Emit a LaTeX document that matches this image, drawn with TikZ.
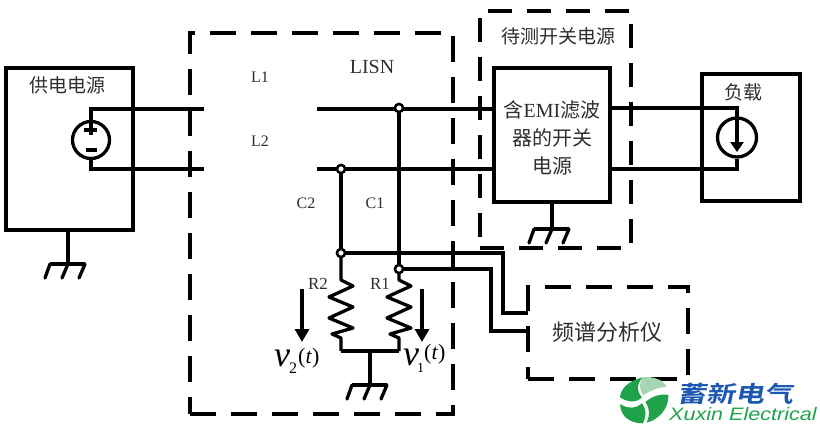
\documentclass[tikz,border=0pt]{standalone}
\usepackage{fontspec}
\setmainfont{Liberation Serif}
\newfontfamily\cjk{Noto Sans CJK SC}
\newfontfamily\cjkb{Noto Sans CJK SC Bold}[BoldFont={Noto Sans CJK SC Bold}]
\newfontfamily\logolat{Liberation Sans}
\usetikzlibrary{arrows.meta}
\definecolor{txt}{HTML}{2E2E2E}
\definecolor{lgreen}{HTML}{1FA24A}
\definecolor{lpale}{HTML}{A5D5B5}
\definecolor{lblue}{HTML}{1C57B0}
\newcommand{\fs}[1]{\fontsize{#1}{#1}\selectfont}
\tikzset{
  wire/.style={line width=3.3pt,line join=miter},
  solidbox/.style={draw,line width=3.1pt,minimum width=0pt,inner sep=0pt,outer sep=0pt},
  dashbox/.style={draw,line width=3.3pt,inner sep=0pt,outer sep=0pt,dash pattern=on 26pt off 15pt},
  cjklabel/.style={inner sep=0pt,text=txt,font=\cjk\fs{#1},align=center},
  serlabel/.style={inner sep=0pt,text=txt,font=\fs{#1}},
  junction/.style={circle,draw,fill=white,line width=2.4pt,minimum size=8pt,inner sep=0pt},
  varrow/.style={line width=3.2pt,-{Triangle[length=13pt,width=14pt]}},
  gndsym/.pic={
    \draw[wire] (-18,0) -- (17,0);
    \draw[wire,line cap=round] (-18,0) -- (-23,14) (0,0) -- (-6,14) (17,0) -- (11,14);
  }
}
\begin{document}
\begin{tikzpicture}[x=1pt,y=-1pt]
\useasboundingbox (0,0) rectangle (820,426);
% boxes
\node[solidbox,minimum width=127pt,minimum height=162pt] (sup) at (69.5,149) {};
\node[solidbox,minimum width=98pt,minimum height=127pt] (load) at (751,137.5) {};
\node[solidbox,fill=white,minimum width=116pt,minimum height=134pt] (dut) at (552,135) {};
% coordinates
\coordinate (srcT) at (91,109); \coordinate (srcB) at (91,169);
\coordinate (l1end) at (204,109); \coordinate (l2end) at (204,169);
\coordinate (l1start) at (317,109); \coordinate (l2start) at (317,169);
\coordinate (ldT) at (737,108); \coordinate (ldB) at (737,169);
\node[circle,draw,line width=3.3pt,minimum size=37pt,inner sep=0pt] (src) at (91,140) {};
\node[circle,draw,line width=3.3pt,minimum size=39pt,inner sep=0pt] (cur) at (737,137.5) {};
% source wires
\draw[wire] (src.north) -- (srcT) -- (l1end);
\draw[wire] (src.south) -- (srcB) -- (l2end);
\draw[wire] (91,120) -- (91,135);
\draw[wire] (84,130) -- (97,130);
\draw[wire] (86,150) -- (97,150);
% lines into DUT and load
\draw[wire] (l1start) -- (dut.west |- l1start);
\draw[wire] (l2start) -- (dut.west |- l2start);
\draw[wire] (dut.east |- ldT) -- (ldT) -- (cur.north);
\draw[wire] (dut.east |- ldB) -- (ldB) -- (cur.south);
\draw[line width=3.2pt,-{Triangle[length=10pt,width=13pt]}] (cur.north) -- (737,152);
% grounds
\coordinate (g1) at (68,264); \coordinate (g2) at (552,229); \coordinate (g3) at (370,385);
\draw[wire] (sup.south -| g1) -- (g1); \pic at (g1) {gndsym};
\draw[wire] (dut.south -| g2) -- (g2); \pic at (g2) {gndsym};
% LISN inner
\node[junction] (j1) at (399,108) {};
\node[junction] (j2) at (341,169) {};
\node[junction] (j3) at (341,253) {};
\node[junction] (j4) at (399,269) {};
\coordinate (r1t) at (399,280); \coordinate (r2t) at (341,280);
\coordinate (r1b) at (399,351); \coordinate (r2b) at (341,351);
\coordinate (gt) at (370,351);
\draw[wire] (j1) -- (j4);
\draw[wire] (j2) -- (j3);
\draw[wire,line join=round] (j3) -- (r2t) -- (353,286) -- (329,297) -- (353,307) -- (329,318) -- (353,328) -- (332,334) -- (341,338) -- (r2b);
\draw[wire,line join=round] (j4) -- (r1t) -- (411,286) -- (387,297) -- (411,307) -- (387,318) -- (411,328) -- (390,334) -- (399,338) -- (r1b);
\draw[wire] (r2b) -- (r1b);
\draw[wire] (gt) -- (g3); \pic at (g3) {gndsym};
% dashed boxes
\node[dashbox,minimum width=263pt,minimum height=381pt] (lisn) at (321.5,223.5) {};
\node[dashbox,dash pattern=on 24pt off 15pt,minimum width=151pt,minimum height=237pt] (dutd) at (555.5,129.5) {};
\node[dashbox,minimum width=160pt,minimum height=92pt] (spec) at (608,333) {};
% to analyser
\coordinate (c1) at (503,253); \coordinate (c2) at (503,313); \coordinate (c3) at (528,313);
\coordinate (d1) at (491,269); \coordinate (d2) at (491,331); \coordinate (d3) at (528,331);
\draw[wire] (j3) -- (c1) -- (c2) -- (c3);
\draw[wire] (j4) -- (d1) -- (d2) -- (d3);
\node[junction] at (341,253) {};
\node[junction] at (399,269) {};
\node[junction] at (399,108) {};
\node[junction] at (341,169) {};
% voltage arrows
\coordinate (v2a) at (302,289); \coordinate (v2b) at (302,342);
\coordinate (v1a) at (422,289); \coordinate (v1b) at (422,342);
\draw[varrow] (v2a) -- (v2b);
\draw[varrow] (v1a) -- (v1b);
% labels
\node[cjklabel=19] (t1) at (68,85) {供电电源};
\node[cjklabel=19] (t2) at (558,36) {待测开关电源};
\node[cjklabel=19] (t3) at (743,92) {负载};
\node[inner sep=0pt,text=txt,font=\fs{20},align=center] (t4) at (552,138) {%
  {\cjk 含}EMI{\cjk 滤波}\\[8pt]{\cjk 器的开关}\\[8pt]{\cjk 电源}};
\node[cjklabel=22] (t5) at (607,332) {频谱分析仪};
\node[serlabel=20] (t6) at (372,67) {LISN};
\node[serlabel=16] (t7) at (260,77) {L1};
\node[serlabel=16] (t8) at (260,141) {L2};
\node[serlabel=16] (t9) at (306,203) {C2};
\node[serlabel=16] (t10) at (375,203) {C1};
\node[serlabel=17] (t11) at (318,284) {R2};
\node[serlabel=17] (t12) at (380,284) {R1};
\node[inner sep=0pt,anchor=west] (t13) at (274,361) {\fs{36}\textit{v}\hspace{-1pt}\raisebox{-7pt}{\fs{16}2}\hspace{1pt}\raisebox{3pt}{\fs{22}(\textit{t})}};
\node[inner sep=0pt,anchor=west] (t14) at (403,358) {\fs{36}\textit{v}\hspace{-2pt}\raisebox{-7pt}{\fs{14}1}\raisebox{6pt}{\fs{22}(\textit{t})}};
% logo
\begin{scope}[shift={(600,280)},x=0.3333pt,y=-0.3333pt]
  \fill[lgreen] (60,352) .. controls (62,320) and (95,300) .. (128,292) .. controls (108,315) and (110,335) .. (126,352) .. controls (105,372) and (80,365) .. (60,352) -- cycle;
  \fill[lpale] (128,292) .. controls (160,288) and (190,300) .. (200,320) .. controls (175,322) and (150,332) .. (130,346) .. controls (118,330) and (116,310) .. (128,292) -- cycle;
  \fill[lgreen] (136,366) .. controls (155,350) and (180,340) .. (205,345) .. controls (208,385) and (175,420) .. (140,428) .. controls (150,405) and (150,385) .. (136,366) -- cycle;
  \fill[lgreen] (60,372) .. controls (85,388) and (110,385) .. (126,370) .. controls (140,390) and (140,410) .. (128,430) .. controls (90,430) and (62,410) .. (60,372) -- cycle;
\end{scope}
\node[inner sep=0pt,text=lblue,font=\cjkb\fs{29},xslant=0.2,yscale=0.78,transform shape] (t15) at (737,394) {蓄新电气};
\node[inner sep=0pt,text=lgreen,font=\logolat\itshape\fs{18},xscale=1.2,transform shape] (t16) at (743,414) {Xuxin Electrical};
\end{tikzpicture}
\end{document}
